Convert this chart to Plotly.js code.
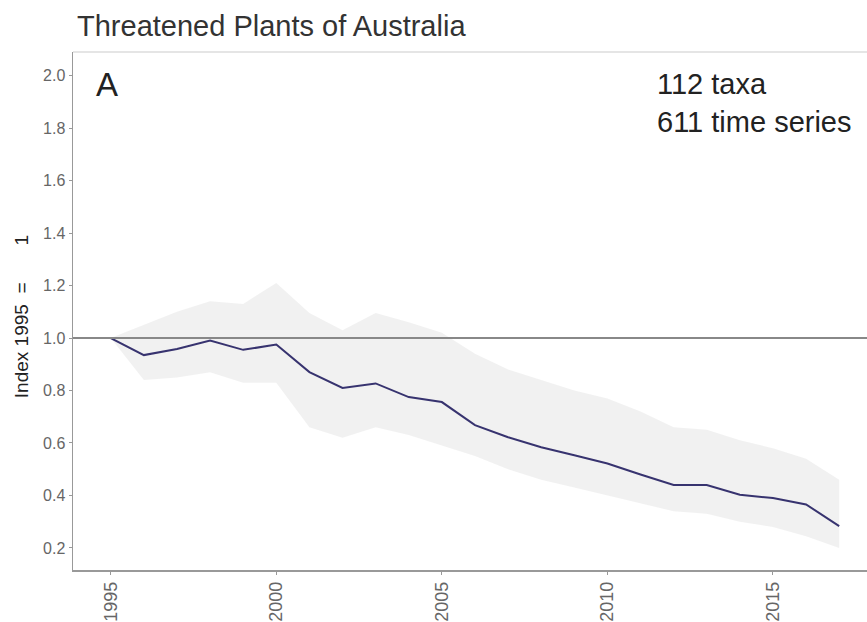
<!DOCTYPE html>
<html>
<head>
<meta charset="utf-8">
<script src="https://cdn.plot.ly/plotly-3.0.1.min.js"></script>
<style>html,body{margin:0;padding:0;background:#fff;}#chart{width:867px;height:622px;}</style>
</head>
<body>
<div id="chart"></div>
<script>
const years = [1995,1996,1997,1998,1999,2000,2001,2002,2003,2004,2005,2006,2007,2008,2009,2010,2011,2012,2013,2014,2015,2016,2017];
const indexValues = [1.0,0.935,0.958,0.99,0.955,0.975,0.87,0.81,0.827,0.775,0.756,0.668,0.622,0.584,0.553,0.522,0.48,0.44,0.44,0.403,0.39,0.366,0.283];
const upperCI = [1.0,1.05,1.1,1.14,1.13,1.21,1.095,1.03,1.095,1.06,1.02,0.94,0.88,0.84,0.8,0.77,0.72,0.66,0.65,0.61,0.58,0.54,0.46];
const lowerCI = [1.0,0.84,0.85,0.87,0.83,0.83,0.66,0.62,0.66,0.63,0.59,0.55,0.5,0.46,0.43,0.4,0.37,0.34,0.33,0.3,0.28,0.245,0.2];
const yTicks = [0.2,0.4,0.6,0.8,1.0,1.2,1.4,1.6,1.8,2.0];
const yTickText = ["0.2","0.4","0.6","0.8","1.0","1.2","1.4","1.6","1.8","2.0"];
const xTicks = [1995,2000,2005,2010,2015];

const traces = [
  {x: years, y: lowerCI, type: 'scatter', mode: 'lines', line: {width: 0, color: 'rgba(0,0,0,0)'}, hoverinfo: 'skip', showlegend: false},
  {x: years, y: upperCI, type: 'scatter', mode: 'lines', fill: 'tonexty', fillcolor: 'rgba(238,238,238,0.85)', line: {width: 0, color: 'rgba(0,0,0,0)'}, hoverinfo: 'skip', showlegend: false},
  {x: years, y: indexValues, type: 'scatter', mode: 'lines', line: {color: '#37336f', width: 2}, showlegend: false}
];

const layout = {
  width: 867, height: 622,
  margin: {l: 73, r: 0, t: 52, b: 52},
  paper_bgcolor: '#fff', plot_bgcolor: '#fff',
  font: {family: 'Liberation Sans, Arial, sans-serif', color: '#555'},
  title: {text: 'Threatened Plants of Australia', x: 0, xref: 'paper', xanchor: 'left', y: 31, yref: 'container', yanchor: 'middle', font: {size: 29, color: '#333'}, pad: {l: 4}},
  xaxis: {
    range: [1993.86, 2017.84], tickmode: 'array', tickvals: xTicks, ticktext: xTicks.map(String),
    tickangle: -90, showgrid: false, zeroline: false, showline: true, linecolor: '#999', linewidth: 1.5,
    ticks: 'outside', ticklen: 3, tickcolor: '#999', tickfont: {size: 18, color: '#666'}
  },
  yaxis: {
    range: [0.116, 2.09], tickmode: 'array', tickvals: yTicks, ticktext: yTickText,
    showgrid: false, zeroline: false, showline: true, linecolor: '#999', linewidth: 1.5,
    ticks: 'outside', ticklen: 3, tickcolor: '#999', tickfont: {size: 16, color: '#666'}
  },
  shapes: [
    {type: 'line', xref: 'paper', x0: 0, x1: 1, yref: 'y', y0: 1, y1: 1, line: {color: '#888', width: 2}},
    {type: 'line', xref: 'paper', x0: 0, x1: 1, yref: 'paper', y0: 1, y1: 1, line: {color: '#ddd', width: 1.5}}
  ],
  annotations: [
    {text: 'Index 1995 \u00a0=\u00a0\u00a0\u00a0\u00a0\u00a0\u00a0\u00a01', xref: 'paper', yref: 'paper', x: -0.0655, y: 0.49, xanchor: 'center', yanchor: 'middle', textangle: -90, showarrow: false, font: {size: 19, color: '#222'}},
    {text: 'A', xref: 'paper', yref: 'paper', x: 0.027, y: 0.937, xanchor: 'left', yanchor: 'middle', showarrow: false, font: {size: 33, color: '#222'}},
    {text: '112 taxa<br>611 time series', xref: 'paper', yref: 'paper', x: 0.733, y: 0.973, xanchor: 'left', yanchor: 'top', align: 'left', showarrow: false, font: {size: 29, color: '#222'}}
  ]
};

Plotly.newPlot('chart', traces, layout, {displayModeBar: false, staticPlot: true});
</script>
</body>
</html>
